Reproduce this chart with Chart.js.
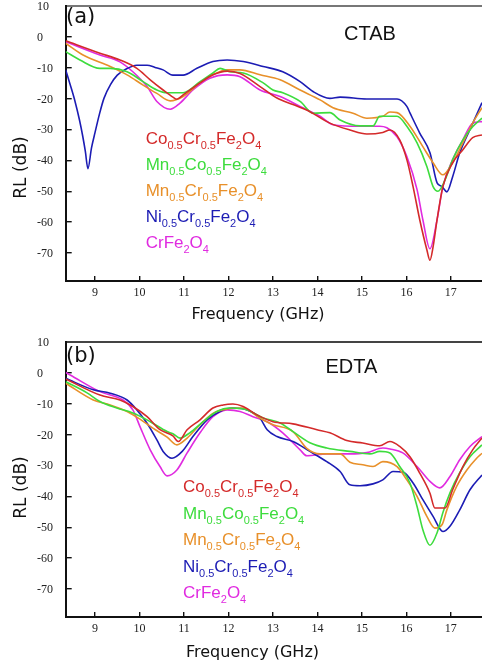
<!DOCTYPE html>
<html><head><meta charset="utf-8">
<script src="https://cdn.jsdelivr.net/npm/chart.js@4/dist/chart.umd.min.js"></script>
<style>
html,body{margin:0;padding:0;background:#fff;width:482px;height:666px;overflow:hidden;}
canvas{position:absolute;left:0;}
#c1{top:0px}
#c2{top:336px}
</style></head><body>
<canvas id="c1" width="482" height="330"></canvas>
<canvas id="c2" width="482" height="330"></canvas>
<script>
const xTicks = [9, 10, 11, 12, 13, 14, 15, 16, 17];
const yTicks = [10, 0, -10, -20, -30, -40, -50, -60, -70];
const seriesNames = ['Co0.5Cr0.5Fe2O4', 'Mn0.5Co0.5Fe2O4', 'Mn0.5Cr0.5Fe2O4', 'Ni0.5Cr0.5Fe2O4', 'CrFe2O4'];
const seriesFormula = [
  ['Co', '0.5', 'Cr', '0.5', 'Fe', '2', 'O', '4'],
  ['Mn', '0.5', 'Co', '0.5', 'Fe', '2', 'O', '4'],
  ['Mn', '0.5', 'Cr', '0.5', 'Fe', '2', 'O', '4'],
  ['Ni', '0.5', 'Cr', '0.5', 'Fe', '2', 'O', '4'],
  ['CrFe', '2', 'O', '4']
];
const seriesColors = ['#d42a2a', '#3ddc3d', '#e8902a', '#1c1cb4', '#e02be0'];

// ---- (a) CTAB ----
const ctabCoFreq = [8.34, 9.11, 9.56, 9.94, 10.24, 10.53, 10.75, 10.84, 10.98, 11.36, 11.65, 11.97, 12.26, 12.71, 13.09, 13.45, 13.83, 14.28, 14.73, 15.11, 15.47, 15.63, 15.85, 16.01, 16.15, 16.30, 16.46, 16.53, 16.60, 16.69, 16.82, 17.04, 17.27, 17.49, 17.70];
const ctabCoRL = [-1.4, -5.4, -7.6, -10.3, -14, -17.3, -19.6, -20.3, -18.9, -15, -12.4, -11.2, -12, -16.2, -19.9, -22, -24.3, -28, -30.2, -31.5, -31, -30.2, -33.4, -39.8, -48.5, -59.2, -68.9, -72.3, -68, -59.2, -48.5, -40.8, -36.6, -32.7, -31.8];
const ctabMnCoFreq = [8.34, 8.66, 9.11, 9.34, 9.72, 10.08, 10.39, 10.62, 10.98, 11.36, 11.65, 11.81, 12.03, 12.33, 12.78, 13.00, 13.22, 13.61, 13.90, 14.28, 14.51, 14.96, 15.25, 15.40, 15.79, 16.01, 16.24, 16.46, 16.60, 16.71, 16.87, 17.04, 17.27, 17.49, 17.70];
const ctabMnCoRL = [-4.9, -7.6, -10.3, -10.3, -11.4, -14.6, -17.3, -18.2, -18.2, -14.6, -11.8, -10.3, -11.4, -11.8, -15, -17.3, -18.2, -21, -24.8, -24.6, -27, -28.9, -28.9, -25.8, -25.8, -29, -34.4, -42, -48.5, -50, -46.3, -39.8, -33.4, -29.2, -26.4];
const ctabMnCrFreq = [8.34, 8.73, 9.34, 9.72, 10.08, 10.39, 10.69, 10.98, 11.36, 11.65, 11.97, 12.26, 12.71, 13.16, 13.61, 14.06, 14.35, 14.80, 15.11, 15.47, 15.63, 15.79, 16.08, 16.37, 16.60, 16.82, 17.04, 17.27, 17.49, 17.70];
const ctabMnCrRL = [-2.2, -6, -9.7, -12.4, -15.7, -18.4, -20.8, -19.4, -15, -12.4, -10.8, -10.8, -12.4, -14, -17.3, -20.5, -23, -24.8, -26.4, -25.8, -24.4, -24.6, -29, -35.6, -40.8, -44.7, -40.8, -34.4, -28, -23];
const ctabNiCrFreq = [8.34, 8.45, 8.55, 8.65, 8.72, 8.78, 8.84, 8.92, 9.00, 9.10, 9.20, 9.35, 9.50, 9.70, 9.94, 10.17, 10.35, 10.53, 10.75, 10.98, 11.29, 11.65, 11.97, 12.33, 12.78, 13.22, 13.61, 13.90, 14.28, 14.51, 15.11, 15.79, 16.01, 16.08, 16.30, 16.53, 16.69, 16.80, 16.91, 17.04, 17.20, 17.43, 17.70];
const ctabNiCrRL = [-10.8, -16, -21, -27, -32, -37, -42.7, -36, -31, -25, -20, -15.5, -12.5, -10.5, -9.3, -9.3, -10, -10.8, -12.5, -12.5, -10.3, -8.1, -7.6, -8.1, -9.7, -11.4, -14.6, -17.8, -20, -19.6, -20.2, -20.2, -22.6, -24.7, -31.2, -37.6, -47.3, -48.5, -50.2, -45.3, -37.6, -30, -21.4];
const ctabCrFeFreq = [8.34, 9.11, 9.56, 9.85, 10.17, 10.39, 10.69, 10.91, 11.20, 11.58, 11.97, 12.26, 12.71, 13.16, 13.61, 14.06, 14.35, 14.96, 15.40, 15.56, 15.79, 16.01, 16.24, 16.37, 16.53, 16.69, 16.82, 17.04, 17.27, 17.49, 17.70];
const ctabCrFeRL = [-1.7, -6, -8.2, -11.4, -16.2, -21, -23.5, -21.5, -17.3, -13.5, -12.4, -13, -17.3, -19.4, -22.6, -25.8, -28.5, -29, -29, -29.5, -32.4, -38.8, -49.5, -59.2, -68.6, -59.2, -48.5, -39.8, -33.4, -28, -27.5];

// ---- (b) EDTA ----
const edtaCoFreq = [8.34, 9.11, 9.56, 9.85, 10.17, 10.46, 10.75, 10.87, 11.07, 11.36, 11.65, 11.88, 12.10, 12.33, 12.64, 13.00, 13.45, 13.99, 14.28, 14.66, 15.02, 15.40, 15.63, 15.85, 16.08, 16.30, 16.53, 16.64, 16.87, 17.04, 17.27, 17.49, 17.70];
const edtaCoRL = [-2.1, -7.3, -8.9, -11, -14.3, -18.5, -20.5, -22.3, -18.5, -15.3, -11.5, -10.5, -10.2, -11, -13.7, -15.9, -16.6, -18.5, -19.5, -22, -22.8, -23.7, -22.3, -23.9, -27.2, -32.5, -39, -43.8, -43.8, -37.9, -30.4, -25, -21.2];
const edtaMnCoFreq = [8.34, 8.82, 9.11, 9.49, 9.85, 10.24, 10.62, 10.75, 10.91, 11.13, 11.43, 11.74, 12.03, 12.42, 12.78, 13.16, 13.45, 13.83, 14.21, 14.73, 15.18, 15.40, 15.63, 15.85, 16.08, 16.24, 16.37, 16.53, 16.69, 16.82, 16.98, 17.20, 17.43, 17.70];
const edtaMnCoRL = [-3, -6.6, -9.4, -11.5, -13.1, -15.9, -19.1, -19.8, -21.2, -19.5, -15.9, -12.6, -11.5, -12.1, -14.7, -16.3, -19.1, -22.7, -24.4, -25.5, -26.3, -25.5, -26, -30.4, -35.7, -43.3, -50.8, -55.8, -51.8, -45.3, -38.9, -32.4, -27.2, -23.4];
const edtaMnCrFreq = [8.34, 8.96, 9.34, 9.72, 10.01, 10.30, 10.62, 10.84, 11.07, 11.36, 11.65, 11.97, 12.33, 12.71, 13.00, 13.45, 13.76, 14.06, 14.51, 14.73, 15.02, 15.25, 15.47, 15.79, 16.01, 16.24, 16.46, 16.64, 16.80, 16.91, 17.13, 17.36, 17.58, 17.70];
const edtaMnCrRL = [-3.5, -8.9, -10.5, -12.6, -15.1, -18, -20.9, -23.4, -21.2, -16.9, -13.2, -11.8, -11.5, -14.8, -16.9, -19.1, -24.5, -26.3, -26.3, -29, -29.8, -30.4, -28.8, -30.4, -34.7, -40, -46.5, -50.3, -49.2, -44.4, -36.8, -31.5, -27.7, -26.1];
const edtaNiCrFreq = [8.34, 8.96, 9.34, 9.72, 9.94, 10.17, 10.39, 10.53, 10.73, 10.96, 11.20, 11.52, 11.81, 12.10, 12.42, 12.71, 12.87, 13.09, 13.45, 13.83, 14.21, 14.51, 14.73, 14.96, 15.25, 15.47, 15.70, 15.92, 16.15, 16.37, 16.60, 16.82, 16.98, 17.20, 17.43, 17.70];
const edtaNiCrRL = [-1.9, -5.6, -6.7, -8.9, -12.1, -16.4, -21.8, -25.5, -27.7, -25.5, -20.7, -15.3, -12.6, -11.5, -12.1, -14.8, -18.5, -20.7, -22.3, -25.5, -28.8, -32, -36.3, -36.6, -36, -34.7, -32, -32.2, -35.7, -41.1, -46.5, -51.4, -49.7, -44.4, -37.9, -33.1];
const edtaCrFeFreq = [8.34, 8.44, 9.11, 9.63, 9.85, 10.01, 10.24, 10.46, 10.62, 10.84, 11.07, 11.36, 11.65, 11.97, 12.26, 12.55, 12.87, 13.22, 13.61, 13.76, 14.21, 14.73, 15.11, 15.47, 15.63, 15.92, 16.24, 16.53, 16.75, 16.98, 17.20, 17.43, 17.70];
const edtaCrFeRL = [0, -0.8, -6.2, -8.9, -12.1, -17.5, -25, -30.4, -33.4, -31.5, -26, -19.5, -14.3, -12.1, -12.6, -14.3, -15.9, -19.5, -25, -26.9, -26.3, -26.3, -25.9, -24.4, -24.7, -26, -30.4, -35.2, -37.3, -33.6, -28.2, -23.9, -20.7];

const xMin = 8.34, xMax = 17.7, yMin = -79, yMax = 10;

const panelText = {
  id: 'panelText',
  afterDraw(chart, args, o) {
    const ctx = chart.ctx;
    ctx.save();
    ctx.fillStyle = '#111';
    ctx.textAlign = 'left';
    ctx.textBaseline = 'middle';
    ctx.font = '21px "DejaVu Sans"';
    ctx.fillText(o.letter, o.letterX, o.letterY);
    ctx.textBaseline = 'alphabetic';
    ctx.font = '20px "Liberation Sans"';
    ctx.fillText(o.tag, o.tagX, o.tagY);
    ctx.textAlign = 'center';
    ctx.textBaseline = 'middle';
    ctx.font = '16px "DejaVu Sans"';
    ctx.fillText(o.xTitle, o.xTitleX, o.xTitleY);
    ctx.save();
    ctx.translate(o.yTitleX, o.yTitleY);
    ctx.rotate(-Math.PI / 2);
    ctx.font = '17px "DejaVu Sans"';
    ctx.fillText(o.yTitle, 0, 0);
    ctx.restore();
    ctx.textAlign = 'left';
    ctx.textBaseline = 'alphabetic';
    seriesFormula.forEach((parts, i) => {
      let x = o.legX;
      const y = o.legY + i * o.legStep;
      ctx.fillStyle = seriesColors[i];
      parts.forEach((p, j) => {
        const sub = j % 2 === 1;
        ctx.font = sub ? '11px "Liberation Sans"' : '17px "Liberation Sans"';
        ctx.fillText(p, x, sub ? y + 5 : y);
        x += ctx.measureText(p).width;
      });
    });
    ctx.restore();
  }
};

function makeChart(id, series, textOpts, topBorderColor) {
  const datasets = series.map((s, i) => ({
    label: seriesNames[i],
    data: s[0].map((f, k) => ({ x: f, y: s[1][k] })),
    borderColor: seriesColors[i],
    backgroundColor: seriesColors[i],
    borderWidth: 1.6,
    pointRadius: 0,
    fill: false,
    cubicInterpolationMode: 'monotone'
  }));
  return new Chart(document.getElementById(id), {
    type: 'line',
    data: { datasets },
    options: {
      responsive: false,
      animation: false,
      devicePixelRatio: 1,
      layout: { padding: { top: 5.5, left: 37, right: 0, bottom: 0 } },
      plugins: { legend: { display: false }, tooltip: { enabled: false }, panelText: textOpts },
      scales: {
        x: {
          type: 'linear', position: 'bottom', min: xMin, max: xMax,
          afterBuildTicks: sc => { sc.ticks = xTicks.map(v => ({ value: v })); },
          afterFit: sc => { sc.height = 49; sc.paddingLeft = 0; sc.paddingRight = 0; },
          grid: { drawOnChartArea: false, tickLength: -5, color: '#111', lineWidth: 1.4 },
          border: { color: '#111', width: 2 },
          ticks: { autoSkip: false, maxRotation: 0, padding: 10, color: '#222', font: { family: '"Liberation Serif"', size: 12 } }
        },
        x2: {
          type: 'linear', position: 'top', min: xMin, max: xMax,
          grid: { display: false }, ticks: { display: false },
          border: { color: topBorderColor, width: 2 },
          afterFit: sc => { sc.height = 0; }
        },
        y: {
          type: 'linear', position: 'left', min: yMin, max: yMax,
          afterBuildTicks: sc => { sc.ticks = yTicks.map(v => ({ value: v })); },
          afterFit: sc => { sc.width = 28.7; sc.paddingTop = 0; sc.paddingBottom = 0; },
          grid: { drawOnChartArea: false, tickLength: -6, color: '#111', lineWidth: 1.4 },
          border: { color: '#111', width: 2 },
          ticks: { autoSkip: false, crossAlign: 'far', padding: 0, labelOffset: 1, color: '#222', font: { family: '"Liberation Serif"', size: 12 } }
        }
      }
    },
    plugins: [panelText]
  });
}

makeChart('c1', [
  [ctabCoFreq, ctabCoRL], [ctabMnCoFreq, ctabMnCoRL], [ctabMnCrFreq, ctabMnCrRL], [ctabNiCrFreq, ctabNiCrRL], [ctabCrFeFreq, ctabCrFeRL]
], {
  letter: '(a)', letterX: 66, letterY: 18,
  tag: 'CTAB', tagX: 344, tagY: 40,
  xTitle: 'Frequency (GHz)', xTitleX: 258, xTitleY: 315,
  yTitle: 'RL (dB)', yTitleX: 21.5, yTitleY: 167.5,
  legX: 145.7, legY: 143.5, legStep: 26
}, '#777');

makeChart('c2', [
  [edtaCoFreq, edtaCoRL], [edtaMnCoFreq, edtaMnCoRL], [edtaMnCrFreq, edtaMnCrRL], [edtaNiCrFreq, edtaNiCrRL], [edtaCrFeFreq, edtaCrFeRL]
], {
  letter: '(b)', letterX: 66, letterY: 20.5,
  tag: 'EDTA', tagX: 325.5, tagY: 37.3,
  xTitle: 'Frequency (GHz)', xTitleX: 252.5, xTitleY: 316.7,
  yTitle: 'RL (dB)', yTitleX: 21.5, yTitleY: 151.5,
  legX: 183, legY: 156, legStep: 26.5
}, '#444');
</script>
</body></html>
